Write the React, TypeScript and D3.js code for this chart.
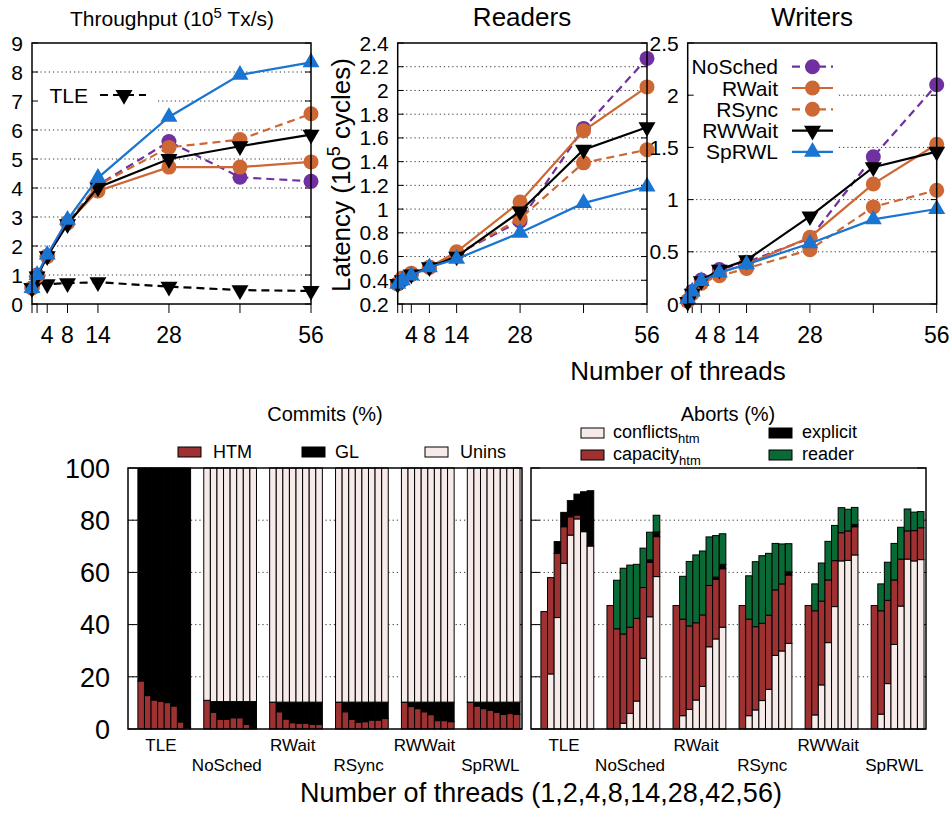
import React from "react";
import * as d3 from "d3";

// ---- data: top line charts ----
const threads = [1, 2, 4, 8, 14, 28, 42, 56];
const threadTickText = ["", "", "4", "8", "14", "28", "", "56"];

// throughput (10^5 Tx/s)
const tputTLE = [0.55, 0.8, 0.68, 0.72, 0.75, 0.6, 0.48, 0.45];
const tputNoSched = [0.55, 1.0, 1.65, 2.8, 4.1, 5.6, 4.37, 4.23];
const tputRWait = [0.55, 0.95, 1.65, 2.8, 3.9, 4.72, 4.72, 4.9];
const tputRSync = [0.55, 0.97, 1.65, 2.8, 4.1, 5.4, 5.67, 6.56];
const tputRWWait = [0.55, 0.95, 1.65, 2.75, 4.02, 5.0, 5.44, 5.84];
const tputSpRWL = [0.55, 1.0, 1.7, 2.9, 4.35, 6.45, 7.9, 8.33];

// reader latency (10^5 cycles)
const readNoSched = [0.37, 0.4, 0.45, 0.51, 0.62, 0.9, 1.68, 2.27];
const readRWait = [0.37, 0.42, 0.46, 0.51, 0.64, 1.06, 1.66, 2.03];
const readRSync = [0.37, 0.41, 0.45, 0.51, 0.62, 0.92, 1.39, 1.5];
const readRWWait = [0.37, 0.4, 0.45, 0.51, 0.6, 0.98, 1.5, 1.69];
const readSpRWL = [0.37, 0.4, 0.44, 0.51, 0.58, 0.8, 1.05, 1.19];

// writer latency (10^5 cycles)
const writeNoSched = [0.03, 0.12, 0.23, 0.33, 0.4, 0.63, 1.41, 2.1];
const writeRWait = [0.03, 0.1, 0.2, 0.3, 0.38, 0.64, 1.15, 1.53];
const writeRSync = [0.03, 0.1, 0.2, 0.27, 0.34, 0.52, 0.93, 1.09];
const writeRWWait = [0.02, 0.1, 0.22, 0.33, 0.42, 0.84, 1.31, 1.46];
const writeSpRWL = [0.05, 0.12, 0.22, 0.3, 0.38, 0.58, 0.81, 0.91];

const tputTicks = [0, 1, 2, 3, 4, 5, 6, 7, 8, 9];
const readTicks = [0.2, 0.4, 0.6, 0.8, 1, 1.2, 1.4, 1.6, 1.8, 2, 2.2, 2.4];
const writeTicks = [0, 0.5, 1, 1.5, 2, 2.5];

// ---- data: bottom stacked bars (%), one row per group, one value per thread count ----
const groups = ["TLE", "NoSched", "RWait", "RSync", "RWWait", "SpRWL"];
const pctTicks = [0, 20, 40, 60, 80, 100];

const commitHTM = [
  [18.4, 12.8, 11.1, 10.6, 10.1, 8.8, 2.7, 0.6],
  [11.0, 6.4, 3.7, 3.7, 4.3, 4.3, 1.8, 0.3],
  [10.2, 6.6, 3.8, 2.4, 2.2, 2.2, 1.8, 1.8],
  [10.2, 6.6, 3.7, 2.6, 2.8, 3.4, 3.4, 4.0],
  [10.2, 8.6, 7.8, 6.6, 5.5, 3.2, 3.2, 2.8],
  [10.2, 8.8, 7.8, 7.2, 6.4, 5.6, 5.9, 5.6],
];
const commitGL = [
  [81.6, 87.2, 88.9, 89.4, 89.9, 91.2, 97.3, 99.4],
  [0, 4.1, 6.8, 6.8, 6.2, 6.2, 8.7, 10.2],
  [0.1, 3.7, 6.5, 7.9, 8.1, 8.1, 8.5, 8.5],
  [0.1, 3.7, 6.6, 7.7, 7.5, 6.9, 6.9, 6.3],
  [0.1, 1.7, 2.5, 3.7, 4.8, 7.1, 7.1, 7.5],
  [0.1, 1.5, 2.5, 3.1, 3.9, 4.7, 4.4, 4.7],
];
const commitUnins = [
  [0, 0, 0, 0, 0, 0, 0, 0],
  [89.0, 89.5, 89.5, 89.5, 89.5, 89.5, 89.5, 89.5],
  [89.7, 89.7, 89.7, 89.7, 89.7, 89.7, 89.7, 89.7],
  [89.7, 89.7, 89.7, 89.7, 89.7, 89.7, 89.7, 89.7],
  [89.7, 89.7, 89.7, 89.7, 89.7, 89.7, 89.7, 89.7],
  [89.7, 89.7, 89.7, 89.7, 89.7, 89.7, 89.7, 89.7],
];

const abortConflicts = [
  [0, 21.1, 42.7, 63.5, 74.3, 80.5, 75.6, 70.1],
  [0, 0, 2.2, 6.0, 10.7, 27.1, 43.0, 58.4],
  [0, 5.1, 7.5, 11.1, 16.3, 31.5, 34.5, 39.0],
  [0, 5.1, 7.3, 10.9, 15.2, 28.2, 29.9, 32.8],
  [0, 5.4, 16.9, 33.1, 46.9, 64.4, 64.6, 66.7],
  [0, 5.7, 17.4, 32.4, 47.1, 65.1, 64.4, 64.9],
];
const abortCapacity = [
  [45.0, 36.9, 24.6, 14.0, 7.0, 1.5, 0, 0],
  [47.3, 38.4, 34.2, 33.0, 31.7, 27.1, 20.9, 15.3],
  [47.3, 37.0, 32.0, 29.6, 27.4, 23.5, 22.8, 22.4],
  [47.3, 37.0, 31.9, 29.6, 28.4, 25.1, 25.7, 26.2],
  [47.3, 39.9, 32.1, 24.0, 17.6, 10.8, 11.3, 10.8],
  [47.3, 39.6, 31.9, 24.7, 18.0, 10.8, 11.6, 12.2],
];
const abortExplicit = [
  [0, 0, 4.5, 5.5, 6.2, 8.0, 15.3, 21.2],
  [0, 0, 0, 0, 0, 0, 0.9, 1.8],
  [0, 0, 0, 0, 0, 0, 0.9, 1.7],
  [0, 0, 0, 0, 0, 0, 0, 1.2],
  [0, 0, 0, 0, 0, 0, 0, 0.9],
  [0, 0, 0, 0, 0, 0, 0, 0],
];
const abortReader = [
  [0, 0, 0, 0, 0, 0, 0, 0],
  [0, 18.6, 25.2, 23.8, 20.7, 15.1, 10.6, 6.4],
  [0, 16.4, 24.7, 26.0, 24.5, 18.6, 15.9, 11.7],
  [0, 16.6, 24.9, 25.9, 23.7, 17.8, 15.3, 10.8],
  [0, 10.3, 14.6, 14.8, 13.5, 9.6, 8.3, 6.5],
  [0, 10.3, 14.6, 14.0, 12.2, 8.4, 7.1, 6.2],
];

// ---- styles ----
const FONT = "'Liberation Sans', Arial, Helvetica, sans-serif";
const PURPLE = "#7030a0";
const ORANGE = "#cd6733";
const BLUE = "#1a74d1";
const BROWN = "#9e3232";
const LIGHT = "#f6ebe9";
const GREEN = "#0a6a35";
const DASH = "8,5";

type Series = { name: string; values: number[]; color: string; dash?: string; marker: string };

const schemeStyle = [
  { name: "NoSched", color: PURPLE, dash: DASH, marker: "circle" },
  { name: "RWait", color: ORANGE, marker: "circle" },
  { name: "RSync", color: ORANGE, dash: DASH, marker: "circle" },
  { name: "RWWait", color: "#000", marker: "down" },
  { name: "SpRWL", color: BLUE, marker: "up" },
];

const withValues = (vals: number[][]): Series[] =>
  schemeStyle.map((s, i) => ({ ...s, values: vals[i] }));

const triPath = d3.symbol().type(d3.symbolTriangle).size(125)() as string;

function Marker({ kind, x, y, color }: { kind: string; x: number; y: number; color: string }) {
  if (kind === "circle") return <circle cx={x} cy={y} r={7.5} fill={color} />;
  return (
    <path
      d={triPath}
      fill={color}
      transform={`translate(${x},${y})${kind === "down" ? " rotate(180)" : ""}`}
    />
  );
}

function LinePanel(props: {
  left: number;
  right: number;
  domain: [number, number];
  ticks: number[];
  series: Series[];
  legendBox?: [number, number, number, number];
  children?: React.ReactNode;
}) {
  const top = 43,
    bottom = 304;
  const x = d3.scaleLinear().domain([1, 56]).range([props.left, props.right]);
  const y = d3.scaleLinear().domain(props.domain).range([bottom, top]);
  const line = d3
    .line<number>()
    .x((_, i) => x(threads[i]))
    .y((d) => y(d));
  return (
    <g>
      {props.ticks.slice(1, -1).map((t) => (
        <line key={t} x1={props.left} x2={props.right} y1={y(t)} y2={y(t)} stroke="#333" strokeWidth={1} strokeDasharray="1.2,3" />
      ))}
      {props.legendBox && (
        <rect x={props.legendBox[0]} y={props.legendBox[1]} width={props.legendBox[2]} height={props.legendBox[3]} fill="#fff" />
      )}
      {props.ticks.map((t) => (
        <g key={"t" + t}>
          <line x1={props.left} x2={props.left + 6} y1={y(t)} y2={y(t)} stroke="#000" />
          <line x1={props.right} x2={props.right - 6} y1={y(t)} y2={y(t)} stroke="#000" />
          <text x={props.left - 9} y={y(t)} dy="0.36em" textAnchor="end" fontSize={21}>
            {String(t)}
          </text>
        </g>
      ))}
      {threads.map((t, i) => (
        <g key={"x" + t}>
          <line x1={x(t)} x2={x(t)} y1={bottom} y2={bottom + 9} stroke="#000" />
          <text x={x(t)} y={343} textAnchor="middle" fontSize={23}>
            {threadTickText[i]}
          </text>
        </g>
      ))}
      {props.series.map((s) => (
        <g key={s.name}>
          <path d={line(s.values) as string} fill="none" stroke={s.color} strokeWidth={2.2} strokeDasharray={s.dash} />
          {s.values.map((v, i) => (
            <Marker key={i} kind={s.marker} x={x(threads[i])} y={y(v)} color={s.color} />
          ))}
        </g>
      ))}
      <rect x={props.left} y={top} width={props.right - props.left} height={bottom - top} fill="none" stroke="#000" strokeWidth={1.5} />
      {props.children}
    </g>
  );
}

function BarPanel(props: {
  left: number;
  right: number;
  layers: { vals: number[][]; fill: string }[];
  showAxis: boolean;
}) {
  const top = 468,
    bottom = 729;
  const slot = d3.scaleLinear().domain([-1.5, 58.3]).range([props.left, props.right]);
  const y = d3.scaleLinear().domain([0, 100]).range([bottom, top]);
  return (
    <g>
      {pctTicks.slice(1, -1).map((t) => (
        <line key={t} x1={props.left} x2={props.right} y1={y(t)} y2={y(t)} stroke="#333" strokeDasharray="1.2,3" />
      ))}
      {pctTicks.map((t) => (
        <g key={"t" + t}>
          <line x1={props.left} x2={props.left + 9} y1={y(t)} y2={y(t)} stroke="#000" />
          <line x1={props.right} x2={props.right - 9} y1={y(t)} y2={y(t)} stroke="#000" />
          {props.showAxis && (
            <text x={110} y={y(t)} dy="0.36em" textAnchor="end" fontSize={27}>
              {t}
            </text>
          )}
        </g>
      ))}
      {groups.map((g, gi) => (
        <g key={g}>
          {threads.map((_, j) => {
            const seg = props.layers.map((l) => l.vals[gi][j]);
            const cum = Array.from(d3.cumsum(seg));
            const x0 = slot(gi * 10 + j);
            const x1 = slot(gi * 10 + j + 1);
            return seg.map((v, k) =>
              v > 0 ? (
                <rect
                  key={j + "-" + k}
                  x={x0}
                  width={x1 - x0}
                  y={y(cum[k])}
                  height={y(cum[k] - v) - y(cum[k])}
                  fill={props.layers[k].fill}
                  stroke="#000"
                  strokeWidth={1}
                />
              ) : null
            );
          })}
          <text
            x={slot(gi * 10 + 3.5)}
            y={gi % 2 === 0 ? 751 : 771}
            textAnchor="middle"
            fontSize={17}
          >
            {g}
          </text>
        </g>
      ))}
      <rect x={props.left} y={top} width={props.right - props.left} height={bottom - top} fill="none" stroke="#000" strokeWidth={1.5} />
    </g>
  );
}

function Swatch({ x, y, fill }: { x: number; y: number; fill: string }) {
  return <rect x={x} y={y} width={23} height={10} fill={fill} stroke="#000" strokeWidth={1} />;
}

export default function App() {
  const tput = withValues([tputNoSched, tputRWait, tputRSync, tputRWWait, tputSpRWL]);
  const tle: Series = { name: "TLE", values: tputTLE, color: "#000", dash: DASH, marker: "down" };
  const reads = withValues([readNoSched, readRWait, readRSync, readRWWait, readSpRWL]);
  const writes = withValues([writeNoSched, writeRWait, writeRSync, writeRWWait, writeSpRWL]);

  return (
    <svg
      width={951}
      height={817}
      style={{ position: "absolute", left: 0, top: 0, background: "#fff" }}
      fontFamily={FONT}
    >
      {/* top row */}
      <LinePanel left={32} right={311} domain={[0, 9]} ticks={tputTicks} series={[tle, ...tput]} legendBox={[33, 84, 124, 22]}>
        <text x={88} y={95} dy="0.36em" textAnchor="end" fontSize={21}>
          TLE
        </text>
        <line x1={100} x2={146} y1={95} y2={95} stroke="#000" strokeWidth={2.2} strokeDasharray={DASH} />
        <Marker kind="down" x={124} y={95} color="#000" />
      </LinePanel>
      <text x={172} y={26} textAnchor="middle" fontSize={21}>
        Throughput (10<tspan dy={-8} fontSize={15}>5</tspan>
        <tspan dy={8}> Tx/s)</tspan>
      </text>

      <LinePanel left={397.7} right={647} domain={[0.2, 2.4]} ticks={readTicks} series={reads} />
      <text x={522} y={26} textAnchor="middle" fontSize={26}>
        Readers
      </text>
      <text transform="translate(350,175) rotate(-90)" textAnchor="middle" fontSize={26}>
        Latency (10<tspan dy={-10} fontSize={18}>5</tspan>
        <tspan dy={10}> cycles)</tspan>
      </text>

      <LinePanel left={687.7} right={936.7} domain={[0, 2.5]} ticks={writeTicks} series={writes} legendBox={[689, 55, 147, 108]}>
        {schemeStyle.map((s, i) => {
          const ly = 66.7 + i * 21.3;
          return (
            <g key={s.name}>
              <text x={778} y={ly} dy="0.36em" textAnchor="end" fontSize={21}>
                {s.name}
              </text>
              <line x1={792} x2={833} y1={ly} y2={ly} stroke={s.color} strokeWidth={2.2} strokeDasharray={s.dash} />
              <Marker kind={s.marker} x={812.5} y={ly} color={s.color} />
            </g>
          );
        })}
      </LinePanel>
      <text x={812} y={26} textAnchor="middle" fontSize={26}>
        Writers
      </text>
      <text x={678} y={380} textAnchor="middle" fontSize={26}>
        Number of threads
      </text>

      {/* bottom row */}
      <text x={325} y={421} textAnchor="middle" fontSize={20}>
        Commits (%)
      </text>
      <Swatch x={178} y={447} fill={BROWN} />
      <text x={213} y={458} fontSize={18}>HTM</text>
      <Swatch x={302} y={447} fill="#000" />
      <text x={335} y={458} fontSize={18}>GL</text>
      <Swatch x={425} y={447} fill={LIGHT} />
      <text x={460} y={458} fontSize={18}>Unins</text>

      <BarPanel
        left={128}
        right={522}
        showAxis={true}
        layers={[
          { vals: commitHTM, fill: BROWN },
          { vals: commitGL, fill: "#000" },
          { vals: commitUnins, fill: LIGHT },
        ]}
      />

      <text x={728} y={421} textAnchor="middle" fontSize={20}>
        Aborts (%)
      </text>
      <Swatch x={581} y={428} fill={LIGHT} />
      <text x={613} y={438} fontSize={18}>
        conflicts<tspan dy={5} fontSize={13}>htm</tspan>
      </text>
      <Swatch x={581} y={450} fill={BROWN} />
      <text x={613} y={460} fontSize={18}>
        capacity<tspan dy={5} fontSize={13}>htm</tspan>
      </text>
      <Swatch x={769} y={428} fill="#000" />
      <text x={802} y={438} fontSize={18}>explicit</text>
      <Swatch x={769} y={450} fill={GREEN} />
      <text x={802} y={460} fontSize={18}>reader</text>

      <BarPanel
        left={531}
        right={926}
        showAxis={false}
        layers={[
          { vals: abortConflicts, fill: LIGHT },
          { vals: abortCapacity, fill: BROWN },
          { vals: abortExplicit, fill: "#000" },
          { vals: abortReader, fill: GREEN },
        ]}
      />

      <text x={541} y={802} textAnchor="middle" fontSize={27}>
        Number of threads (1,2,4,8,14,28,42,56)
      </text>
    </svg>
  );
}
